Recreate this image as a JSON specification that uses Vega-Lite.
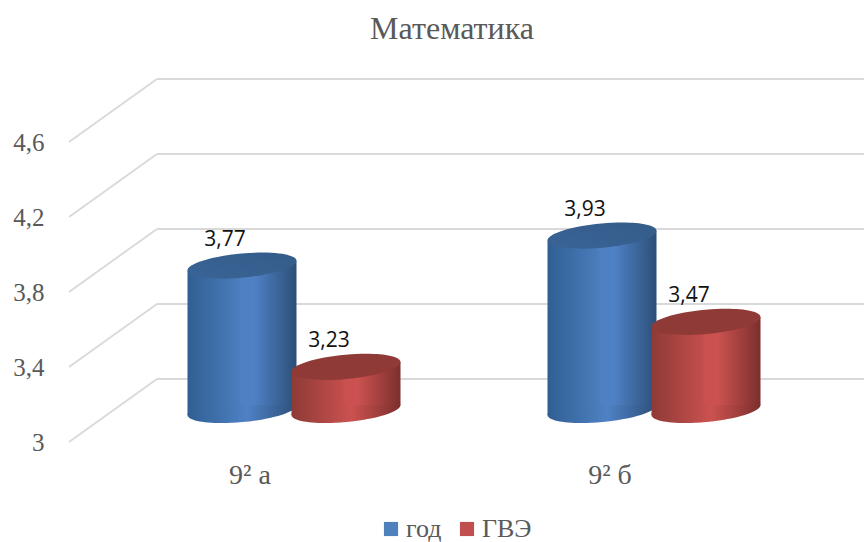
{
"$schema":"https://vega.github.io/schema/vega-lite/v6.json",
"autosize":{"type":"none"},
"padding":{"left":60,"top":79,"right":0,"bottom":100},
"width":804,"height":363,
"background":"white",
"title":{"text":"Математика","font":"Liberation Serif","fontSize":32,"fontWeight":"normal","color":"#595959","anchor":"middle","dx":-10,"offset":32},
"datasets":{
"scores":[
{"class":"9² а","series":"год","value":3.77,"label":"3,77"},
{"class":"9² а","series":"ГВЭ","value":3.23,"label":"3,23"},
{"class":"9² б","series":"год","value":3.93,"label":"3,93"},
{"class":"9² б","series":"ГВЭ","value":3.47,"label":"3,47"}],
"grid":[{"tick":3,"back":3.336},{"tick":3.4,"back":3.736},{"tick":3.8,"back":4.136},{"tick":4.2,"back":4.536},{"tick":4.6,"back":4.936}]
},
"resolve":{"scale":{"x":"independent"}},
"layer":[
{"data":{"name":"grid"},"mark":{"type":"rule","color":"#d9d9d9","strokeWidth":1.8},
 "encoding":{"x":{"datum":0,"type":"quantitative","scale":{"domain":[-0.102,9.034],"nice":false,"zero":false},"axis":null},"x2":{"datum":1},
 "y":{"field":"tick","type":"quantitative","scale":{"domain":[3,4.936],"nice":false,"zero":false},"axis":{"values":[3,3.4,3.8,4.2,4.6],"title":null,"grid":false,"domain":false,"ticks":false,"labelFont":"Liberation Serif","labelFontSize":25,"labelColor":"#595959","labelPadding":16,"labelExpr":"replace(toString(datum.value),'.',',')"}},"y2":{"field":"back"}}},
{"data":{"name":"grid"},"mark":{"type":"rule","color":"#d9d9d9","strokeWidth":1.8},
 "encoding":{"x":{"datum":1,"type":"quantitative","scale":{"domain":[-0.102,9.034],"nice":false,"zero":false},"axis":null},"x2":{"datum":9.034},
 "y":{"field":"back","type":"quantitative"}}},
{"data":{"name":"scores"},
 "encoding":{
  "x":{"field":"class","type":"nominal","sort":null,"scale":{"range":[54,774],"paddingInner":0,"paddingOuter":0},"axis":{"title":null,"domain":false,"ticks":false,"labelAngle":0,"labelFont":"Liberation Serif","labelFontSize":28,"labelColor":"#595959","labelPadding":19,"labelOffset":-44}},
  "xOffset":{"field":"slot","type":"nominal","scale":{"domain":["годL","год","годR","gap","ГВЭL","ГВЭ","ГВЭR"],"range":[89,271],"paddingOuter":0,"paddingInner":0}},
  "y":{"field":"value","type":"quantitative"}
 },
 "layer":[
 {"transform":[{"filter":"datum.series==='год'"},{"calculate":"datum.series","as":"slot"}],"mark":{"type":"point","filled":true,"opacity":1,"size":11881,"yOffset":-32,"shape":"M-1,0.09 A1,0.22 -5.3 1 1 1,-0.09 A1,0.22 -5.3 1 1 -1,0.09 Z","fill":{"gradient":"linear","x1":0,"x2":1,"y1":0,"y2":0,"stops":[{"offset":0,"color":"#2f5f92"},{"offset":0.55,"color":"#4f81c5"},{"offset":1,"color":"#2c4f78"}]}},"encoding":{"y":{"datum":3,"type":"quantitative"}}},
 {"transform":[{"filter":"datum.series==='год'"},{"calculate":"datum.series+'L'","as":"slot"}],"mark":{"type":"bar","width":57,"yOffset":-27,"y2Offset":-27,"fill":{"gradient":"linear","x1":0,"x2":1,"y1":0,"y2":0,"stops":[{"offset":0,"color":"#2f5f92"},{"offset":1,"color":"#4e80c2"}]}},"encoding":{"y2":{"datum":3}}},
 {"transform":[{"filter":"datum.series==='год'"},{"calculate":"datum.series+'R'","as":"slot"}],"mark":{"type":"bar","width":57,"yOffset":-37,"y2Offset":-37,"fill":{"gradient":"linear","x1":0,"x2":1,"y1":0,"y2":0,"stops":[{"offset":0,"color":"#4e80c2"},{"offset":0.25,"color":"#4f81c5"},{"offset":1,"color":"#2c4f78"}]}},"encoding":{"y2":{"datum":3}}},
 {"transform":[{"filter":"datum.series==='год'"},{"calculate":"datum.series","as":"slot"}],"mark":{"type":"point","filled":true,"opacity":1,"size":11881,"yOffset":-32,"shape":"M-1,0.09 A1,0.22 -5.3 1 1 1,-0.09 A1,0.22 -5.3 1 1 -1,0.09 Z","fill":{"gradient":"linear","x1":0,"x2":1,"y1":1,"y2":0,"stops":[{"offset":0,"color":"#3a6496"},{"offset":1,"color":"#345c8a"}]}}},
 {"transform":[{"filter":"datum.series==='ГВЭ'"},{"calculate":"datum.series","as":"slot"}],"mark":{"type":"point","filled":true,"opacity":1,"size":11881,"yOffset":-32,"shape":"M-1,0.09 A1,0.22 -5.3 1 1 1,-0.09 A1,0.22 -5.3 1 1 -1,0.09 Z","fill":{"gradient":"linear","x1":0,"x2":1,"y1":0,"y2":0,"stops":[{"offset":0,"color":"#8e3a36"},{"offset":0.55,"color":"#cb5250"},{"offset":1,"color":"#7b2f2d"}]}},"encoding":{"y":{"datum":3,"type":"quantitative"}}},
 {"transform":[{"filter":"datum.series==='ГВЭ'"},{"calculate":"datum.series+'L'","as":"slot"}],"mark":{"type":"bar","width":57,"yOffset":-27,"y2Offset":-27,"fill":{"gradient":"linear","x1":0,"x2":1,"y1":0,"y2":0,"stops":[{"offset":0,"color":"#8e3a36"},{"offset":1,"color":"#c9504e"}]}},"encoding":{"y2":{"datum":3}}},
 {"transform":[{"filter":"datum.series==='ГВЭ'"},{"calculate":"datum.series+'R'","as":"slot"}],"mark":{"type":"bar","width":57,"yOffset":-37,"y2Offset":-37,"fill":{"gradient":"linear","x1":0,"x2":1,"y1":0,"y2":0,"stops":[{"offset":0,"color":"#c9504e"},{"offset":0.25,"color":"#cb5250"},{"offset":1,"color":"#7b2f2d"}]}},"encoding":{"y2":{"datum":3}}},
 {"transform":[{"filter":"datum.series==='ГВЭ'"},{"calculate":"datum.series","as":"slot"}],"mark":{"type":"point","filled":true,"opacity":1,"size":11881,"yOffset":-32,"shape":"M-1,0.09 A1,0.22 -5.3 1 1 1,-0.09 A1,0.22 -5.3 1 1 -1,0.09 Z","fill":"#903a38"}},
 {"transform":[{"calculate":"datum.series","as":"slot"}],"mark":{"type":"text","font":"Open Sans","fontSize":21,"color":"#111111","dx":-17,"yOffset":-58,"baseline":"middle"},"encoding":{"text":{"field":"label"}}},
 {"transform":[{"calculate":"datum.series","as":"slot"}],"mark":{"type":"point","filled":true,"size":0,"opacity":0},"encoding":{"color":{"field":"series","type":"nominal","scale":{"domain":["год","ГВЭ"],"range":["#4f81bd","#c0504d"]},"legend":{"orient":"none","legendX":318,"legendY":437,"direction":"horizontal","title":null,"symbolType":"square","symbolSize":200,"symbolOpacity":1,"labelFont":"Liberation Serif","labelFontSize":26,"labelColor":"#595959","columnPadding":12,"labelOffset":2,"labelLimit":100}}}}
 ]}
],
"config":{"view":{"stroke":null}}
}
